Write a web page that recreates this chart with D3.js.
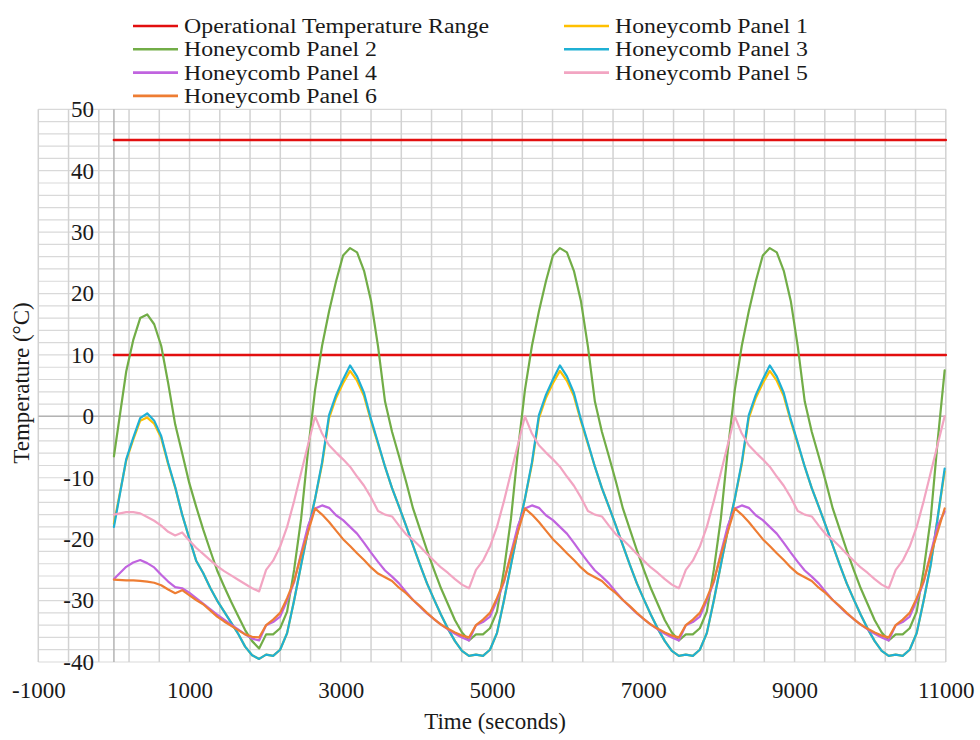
<!DOCTYPE html>
<html><head><meta charset="utf-8">
<script src="https://cdn.jsdelivr.net/npm/d3@7"></script>
<style>
html,body{margin:0;padding:0;background:#fff;}
svg{display:block;}
</style></head>
<body>
<svg id="chart" width="980" height="740"></svg>
<script>
// ---------------- DATA ----------------
const TIME = [0,162.5,255,347.5,440,532.5,625,717.5,810,902.5,995,1087.5,1180,1272.5,1365,1457.5,1550,1642.5,1735,1827.5,
1920,2012.5,2105,2197.5,2290,2382.5,2475,2567.5,2660,2752.5,2845,2937.5,3030,3122.5,3215,3307.5,3400,3492.5,3585,3677.5,
3770,3862.5,3955,4047.5,4140,4232.5,4325,4417.5,4510,4602.5,4695,4787.5,4880,4972.5,5065,5157.5,5250,5342.5,5435,5527.5,
5620,5712.5,5805,5897.5,5990,6082.5,6175,6267.5,6360,6452.5,6545,6637.5,6730,6822.5,6915,7007.5,7100,7192.5,7285,7377.5,
7470,7562.5,7655,7747.5,7840,7932.5,8025,8117.5,8210,8302.5,8395,8487.5,8580,8672.5,8765,8857.5,8950,9042.5,9135,9227.5,
9320,9412.5,9505,9597.5,9690,9782.5,9875,9967.5,10060,10152.5,10245,10337.5,10430,10522.5,10615,10707.5,10800,10892.5,10985];

const RANGE_TIME = [0, 11000];
const RANGE_HIGH = [45, 45];
const RANGE_LOW = [10, 10];

const PANEL1 = [-17.5,-7.2,-3.8,-0.7,-0.2,-1.2,-3.5,-7.8,-11.6,-16,-19.8,-23.5,-25.5,-27.9,-30,-31.8,-33.6,-35.4,-37.5,-38.9,
-39.5,-38.8,-39,-38,-35.3,-30,-24.2,-18.5,-13.4,-7.8,-0.3,3,5.4,7.4,5.8,3.3,-0.8,-4.5,-8.2,-11.7,-14.7,-17.8,-21,-24.2,-27.2,-29.8,-32.3,-34.6,-36.6,-38.2,
-39,-38.8,-39,-38,-35.3,-30,-24.2,-18.5,-13.4,-7.8,-0.3,3,5.4,7.4,5.8,3.3,-0.8,-4.5,-8.2,-11.7,-14.7,-17.8,-21,-24.2,-27.2,-29.8,-32.3,-34.6,-36.6,-38.2,
-39,-38.8,-39,-38,-35.3,-30,-24.2,-18.5,-13.4,-7.8,-0.3,3,5.4,7.4,5.8,3.3,-0.8,-4.5,-8.2,-11.7,-14.7,-17.8,-21,-24.2,-27.2,-29.8,-32.3,-34.6,-36.6,-38.2,
-39,-38.8,-39,-38,-35.3,-30,-24.2,-16.5,-9];

const PANEL2 = [-6.5,7.3,12.4,16,16.6,15,11.5,5.4,-1.3,-6,-10.8,-14.7,-18.4,-21.8,-25.1,-27.7,-30.2,-32.5,-34.8,-36.6,
-37.8,-35.5,-35.5,-34.5,-31.8,-25,-16.7,-5.5,4.3,11.5,17.1,22,26.2,27.4,26.7,23.7,18.8,11.4,2.4,-2.5,-6.5,-10.6,-15,-18.4,-21.8,-25,-28,-30.6,-33.2,-35.2,
-36.5,-35.5,-35.5,-34.5,-31.8,-25,-16.7,-5.5,4.3,11.5,17.1,22,26.2,27.4,26.7,23.7,18.8,11.4,2.4,-2.5,-6.5,-10.6,-15,-18.4,-21.8,-25,-28,-30.6,-33.2,-35.2,
-36.5,-35.5,-35.5,-34.5,-31.8,-25,-16.7,-5.5,4.3,11.5,17.1,22,26.2,27.4,26.7,23.7,18.8,11.4,2.4,-2.5,-6.5,-10.6,-15,-18.4,-21.8,-25,-28,-30.6,-33.2,-35.2,
-36.5,-35.5,-35.5,-34.5,-31.8,-25,-16.7,-4,7.5];

const PANEL3 = [-18,-7,-3.5,-0.3,0.5,-0.7,-3.2,-7.6,-11.5,-16,-19.8,-23.5,-25.5,-27.9,-30,-31.8,-33.6,-35.4,-37.5,-38.9,
-39.5,-38.8,-39,-38,-35.3,-30,-24.2,-18.5,-13.4,-7.5,0.2,3.5,6,8.3,6.5,3.8,-0.5,-4.3,-8.2,-11.7,-14.7,-17.8,-21,-24.2,-27.2,-29.8,-32.3,-34.6,-36.6,-38.2,
-39,-38.8,-39,-38,-35.3,-30,-24.2,-18.5,-13.4,-7.5,0.2,3.5,6,8.3,6.5,3.8,-0.5,-4.3,-8.2,-11.7,-14.7,-17.8,-21,-24.2,-27.2,-29.8,-32.3,-34.6,-36.6,-38.2,
-39,-38.8,-39,-38,-35.3,-30,-24.2,-18.5,-13.4,-7.5,0.2,3.5,6,8.3,6.5,3.8,-0.5,-4.3,-8.2,-11.7,-14.7,-17.8,-21,-24.2,-27.2,-29.8,-32.3,-34.6,-36.6,-38.2,
-39,-38.8,-39,-38,-35.3,-30,-24.2,-16.5,-8.5];

const PANEL4 = [-26.5,-24.5,-23.8,-23.4,-23.9,-24.6,-25.8,-26.9,-27.8,-28,-28.7,-29.6,-30.5,-31.4,-32.3,-33.1,-33.9,-34.7,-35.5,-36.2,
-36.5,-34,-33.5,-32.6,-30,-27,-22.3,-17.8,-15,-14.5,-14.9,-16.1,-16.9,-18,-19.1,-20.6,-22.2,-23.7,-25.1,-26.1,-27.2,-28.6,-29.9,-31,-32.1,-33,-33.9,-34.7,-35.4,-36,
-36.5,-34,-33.5,-32.6,-30,-27,-22.3,-17.8,-15,-14.5,-14.9,-16.1,-16.9,-18,-19.1,-20.6,-22.2,-23.7,-25.1,-26.1,-27.2,-28.6,-29.9,-31,-32.1,-33,-33.9,-34.7,-35.4,-36,
-36.5,-34,-33.5,-32.6,-30,-27,-22.3,-17.8,-15,-14.5,-14.9,-16.1,-16.9,-18,-19.1,-20.6,-22.2,-23.7,-25.1,-26.1,-27.2,-28.6,-29.9,-31,-32.1,-33,-33.9,-34.7,-35.4,-36,
-36.5,-34,-33.5,-32.6,-30,-27,-22.3,-17.8,-15.5];

const PANEL5 = [-16,-15.6,-15.6,-15.8,-16.4,-17,-17.8,-18.8,-19.4,-18.9,-20.2,-21.4,-22.4,-23.4,-24.4,-25.2,-25.9,-26.6,-27.3,-28,
-28.5,-25,-23.5,-21.2,-18,-13.8,-9.2,-4.6,0,-2.8,-4.7,-5.9,-7,-8.2,-9.8,-11.3,-13.2,-15.4,-16,-16.3,-17.8,-19.2,-20.1,-21.2,-22.4,-23.5,-24.6,-25.5,-26.5,-27.4,
-28,-25,-23.5,-21.2,-18,-13.8,-9.2,-4.6,0,-2.8,-4.7,-5.9,-7,-8.2,-9.8,-11.3,-13.2,-15.4,-16,-16.3,-17.8,-19.2,-20.1,-21.2,-22.4,-23.5,-24.6,-25.5,-26.5,-27.4,
-28,-25,-23.5,-21.2,-18,-13.8,-9.2,-4.6,0,-2.8,-4.7,-5.9,-7,-8.2,-9.8,-11.3,-13.2,-15.4,-16,-16.3,-17.8,-19.2,-20.1,-21.2,-22.4,-23.5,-24.6,-25.5,-26.5,-27.4,
-28,-25,-23.5,-21.2,-18,-13.8,-9.2,-4.6,0];

const PANEL6 = [-26.6,-26.7,-26.7,-26.8,-26.9,-27.1,-27.5,-28.2,-28.8,-28.3,-29.1,-29.9,-30.6,-31.6,-32.6,-33.4,-34.1,-34.8,-35.5,-35.9,
-36,-34,-33.1,-32,-29.6,-26.8,-22.6,-18.8,-15,-16,-17.2,-18.6,-20,-21.1,-22.3,-23.4,-24.6,-25.6,-26.2,-26.8,-27.9,-28.8,-29.9,-30.9,-32,-33,-33.9,-34.6,-35.2,-35.7,
-36,-34,-33.1,-32,-29.6,-26.8,-22.6,-18.8,-15,-16,-17.2,-18.6,-20,-21.1,-22.3,-23.4,-24.6,-25.6,-26.2,-26.8,-27.9,-28.8,-29.9,-30.9,-32,-33,-33.9,-34.6,-35.2,-35.7,
-36,-34,-33.1,-32,-29.6,-26.8,-22.6,-18.8,-15,-16,-17.2,-18.6,-20,-21.1,-22.3,-23.4,-24.6,-25.6,-26.2,-26.8,-27.9,-28.8,-29.9,-30.9,-32,-33,-33.9,-34.6,-35.2,-35.7,
-36,-34,-33.1,-32,-29.6,-26.8,-22.6,-18.8,-15];

const SERIES_NAMES = ["Honeycomb Panel 1","Honeycomb Panel 2","Honeycomb Panel 3","Honeycomb Panel 4","Honeycomb Panel 5","Honeycomb Panel 6"];
const RANGE_NAME = "Operational Temperature Range";
const X_TICKS = [-1000, 1000, 3000, 5000, 7000, 9000, 11000];
const Y_TICKS = [-40, -30, -20, -10, 0, 10, 20, 30, 40, 50];
const X_LABEL = "Time (seconds)";
const Y_LABEL = "Temperature (°C)";

// ---------------- STYLE ----------------
const COLORS = {
  range: "#e20f0f",
  p1: "#ffc000", p2: "#72ad47", p3: "#1fb0d4", p4: "#c064df", p5: "#f2a5c2", p6: "#ee7d33"
};
const FONT = "'Liberation Serif','Times New Roman',serif";

const svg = d3.select("#chart");
const x = d3.scaleLinear().domain([-1000, 11000]).range([38.3, 945.8]);
const y = d3.scaleLinear().domain([-40, 50]).range([662, 109.3]);

// grid
const grid = svg.append("g");
grid.selectAll("line.h").data(d3.range(-40, 50.1, 2)).join("line")
  .attr("x1", x(-1000)).attr("x2", x(11000))
  .attr("y1", d => y(d)).attr("y2", d => y(d))
  .attr("stroke", "#d9d9d9").attr("stroke-width", 1.2);
grid.selectAll("line.v").data(d3.range(-1000, 11000.1, 400)).join("line")
  .attr("x1", d => x(d)).attr("x2", d => x(d))
  .attr("y1", y(50)).attr("y2", y(-40))
  .attr("stroke", "#d2d2d2").attr("stroke-width", 1.5);

// axis lines through zero
svg.append("line").attr("x1", x(-1000)).attr("x2", x(11000)).attr("y1", y(0)).attr("y2", y(0))
  .attr("stroke", "#b3b3b3").attr("stroke-width", 1.5);
svg.append("line").attr("x1", x(0)).attr("x2", x(0)).attr("y1", y(50)).attr("y2", y(-40))
  .attr("stroke", "#b3b3b3").attr("stroke-width", 1.5);

// tick labels
const fmt = d => String(d);
const yAxis = d3.axisLeft(y).tickValues(Y_TICKS).tickSize(0).tickPadding(20).tickFormat(fmt);
const gy = svg.append("g").attr("transform", `translate(${x(0)},0)`).call(yAxis);
gy.select(".domain").remove();
gy.selectAll("text").attr("font-family", FONT).attr("font-size", 23).attr("fill", "#1a1a1a");

const xAxis = d3.axisBottom(x).tickValues(X_TICKS).tickSize(0).tickPadding(20).tickFormat(fmt);
const gx = svg.append("g").attr("transform", `translate(0,${y(-40)})`).call(xAxis);
gx.select(".domain").remove();
gx.selectAll("text").attr("font-family", FONT).attr("font-size", 23).attr("fill", "#1a1a1a")
  .attr("y", 36).attr("dy", 0);

// axis titles
svg.append("text").attr("x", 495).attr("y", 729).attr("text-anchor", "middle")
  .attr("font-family", FONT).attr("font-size", 23).attr("fill", "#1a1a1a").text(X_LABEL);
svg.append("text").attr("transform", "translate(29,383) rotate(-90)").attr("text-anchor", "middle")
  .attr("font-family", FONT).attr("font-size", 23).attr("fill", "#1a1a1a").text(Y_LABEL);

// lines
const line = d3.line().x(d => x(d[0])).y(d => y(d[1]));
const plot = svg.append("g").attr("fill", "none").attr("stroke-linejoin", "round").attr("stroke-linecap", "round");

plot.append("path").attr("d", line(RANGE_TIME.map((t, i) => [t, RANGE_HIGH[i]])))
  .attr("stroke", COLORS.range).attr("stroke-width", 2.6);
plot.append("path").attr("d", line(RANGE_TIME.map((t, i) => [t, RANGE_LOW[i]])))
  .attr("stroke", COLORS.range).attr("stroke-width", 2.6);

const series = [
  {vals: PANEL1, color: COLORS.p1},
  {vals: PANEL2, color: COLORS.p2},
  {vals: PANEL3, color: COLORS.p3},
  {vals: PANEL4, color: COLORS.p4},
  {vals: PANEL5, color: COLORS.p5},
  {vals: PANEL6, color: COLORS.p6}
];
series.forEach(s => {
  plot.append("path").attr("d", line(TIME.map((t, i) => [t, s.vals[i]])))
    .attr("stroke", s.color).attr("stroke-width", 2.2);
});

// legend
const legendItems = [
  {name: RANGE_NAME, color: COLORS.range, col: 0, row: 0, w: 305},
  {name: SERIES_NAMES[0], color: COLORS.p1, col: 1, row: 0, w: 193},
  {name: SERIES_NAMES[1], color: COLORS.p2, col: 0, row: 1, w: 193},
  {name: SERIES_NAMES[2], color: COLORS.p3, col: 1, row: 1, w: 193},
  {name: SERIES_NAMES[3], color: COLORS.p4, col: 0, row: 2, w: 193},
  {name: SERIES_NAMES[4], color: COLORS.p5, col: 1, row: 2, w: 193},
  {name: SERIES_NAMES[5], color: COLORS.p6, col: 0, row: 3, w: 193}
];
const colX = [133, 564];
const lg = svg.append("g");
legendItems.forEach(it => {
  const cy = 26 + it.row * 23.3;
  lg.append("line").attr("x1", colX[it.col]).attr("x2", colX[it.col] + 45)
    .attr("y1", cy).attr("y2", cy).attr("stroke", it.color).attr("stroke-width", 2.6);
  lg.append("text").attr("x", colX[it.col] + 51).attr("y", cy + 7)
    .attr("font-family", FONT).attr("font-size", 20).attr("fill", "#1a1a1a")
    .attr("textLength", it.w).attr("lengthAdjust", "spacingAndGlyphs").text(it.name);
});
</script>
</body></html>
